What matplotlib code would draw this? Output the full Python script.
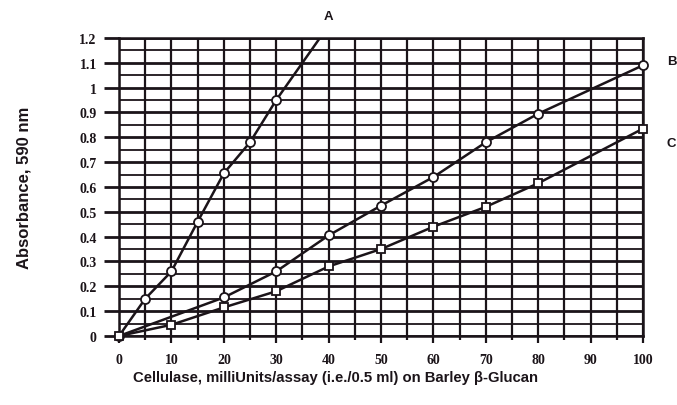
import numpy as np
import matplotlib.pyplot as plt
from matplotlib.ticker import MultipleLocator

# enzyme activity, milliUnits/assay
A_x = [0, 5, 10, 15, 20, 25, 30, 40]
A_y = [0.0, 0.15, 0.26, 0.46, 0.655, 0.78, 0.95, 1.25]   # last one: line runs off the top
B_x = [0, 20, 30, 40, 50, 60, 70, 80, 100]
B_y = [0.0, 0.155, 0.26, 0.405, 0.525, 0.64, 0.78, 0.895, 1.09]
C_x = [0, 10, 20, 30, 40, 50, 60, 70, 80, 100]
C_y = [0.0, 0.045, 0.115, 0.18, 0.28, 0.35, 0.44, 0.52, 0.615, 0.835]

x_ticks = [0, 10, 20, 30, 40, 50, 60, 70, 80, 90, 100]
y_ticks = [0, 0.1, 0.2, 0.3, 0.4, 0.5, 0.6, 0.7, 0.8, 0.9, 1.0, 1.1, 1.2]
y_tick_labels = ['0', '0.1', '0.2', '0.3', '0.4', '0.5', '0.6', '0.7', '0.8', '0.9', '1', '1.1', '1.2']

ink = '#1b1419'

fig = plt.figure(figsize=(6.77, 4.06), dpi=100)
ax = fig.add_axes([0.1758, 0.17, 0.774, 0.734])

# grid drawn like graph paper
for xv in np.arange(0, 101, 5):
    ax.axvline(xv, color=ink, lw=1.6, zorder=1)
for yv in np.arange(0, 1.21, 0.05):
    major = abs(yv * 10 - round(yv * 10)) < 1e-6
    ax.axhline(yv, color=ink, lw=2.0 if major else 1.3, zorder=1)

ax.plot(A_x, A_y, color=ink, lw=1.8, marker='o', ms=6.5, mfc='white', mec=ink,
        mew=1.3, markevery=slice(0, 7), zorder=3, clip_on=True)
ax.plot(B_x, B_y, color=ink, lw=1.8, marker='o', ms=6.5, mfc='white', mec=ink,
        mew=1.3, zorder=3, clip_on=False)
ax.plot(C_x, C_y, color=ink, lw=1.8, marker='s', ms=6, mfc='white', mec=ink,
        mew=1.3, zorder=3, clip_on=False)

ax.set_xlim(0, 100)
ax.set_ylim(0, 1.2)
ax.set_xticks(x_ticks)
ax.set_yticks(y_ticks)
ax.set_yticklabels(y_tick_labels)
ax.xaxis.set_minor_locator(MultipleLocator(5))

for s in ax.spines.values():
    s.set_color(ink)
    s.set_linewidth(1.8)

tick_font = {'family': 'Liberation Serif', 'weight': 'bold', 'size': 10}
ax.tick_params(axis='y', which='major', length=11, width=2.0, color=ink, pad=5)
ax.tick_params(axis='x', which='major', length=5, width=1.6, color=ink, pad=7)
ax.tick_params(axis='x', which='minor', length=3, width=1.6, color=ink)
for lab in ax.get_xticklabels() + ax.get_yticklabels():
    lab.set_fontproperties(tick_font)
    lab.set_color(ink)

lab_font = dict(family='Liberation Sans', weight='bold', color=ink)
fig.text(0.496, 0.069, 'Cellulase, milliUnits/assay (i.e./0.5 ml) on Barley \u03b2-Glucan',
         ha='center', va='center', fontsize=10.7, **lab_font)
fig.text(0.035, 0.537, 'Absorbance, 590 nm', rotation=90, ha='center', va='center',
         fontsize=12, **lab_font)

ax.text(39.9, 1.29, 'A', ha='center', va='center', fontsize=9.5, clip_on=False, **lab_font)
ax.text(105.5, 1.107, 'B', ha='center', va='center', fontsize=9.5, clip_on=False, **lab_font)
ax.text(105.3, 0.776, 'C', ha='center', va='center', fontsize=9.5, clip_on=False, **lab_font)

fig.savefig('out.png', dpi=100, facecolor='white')
